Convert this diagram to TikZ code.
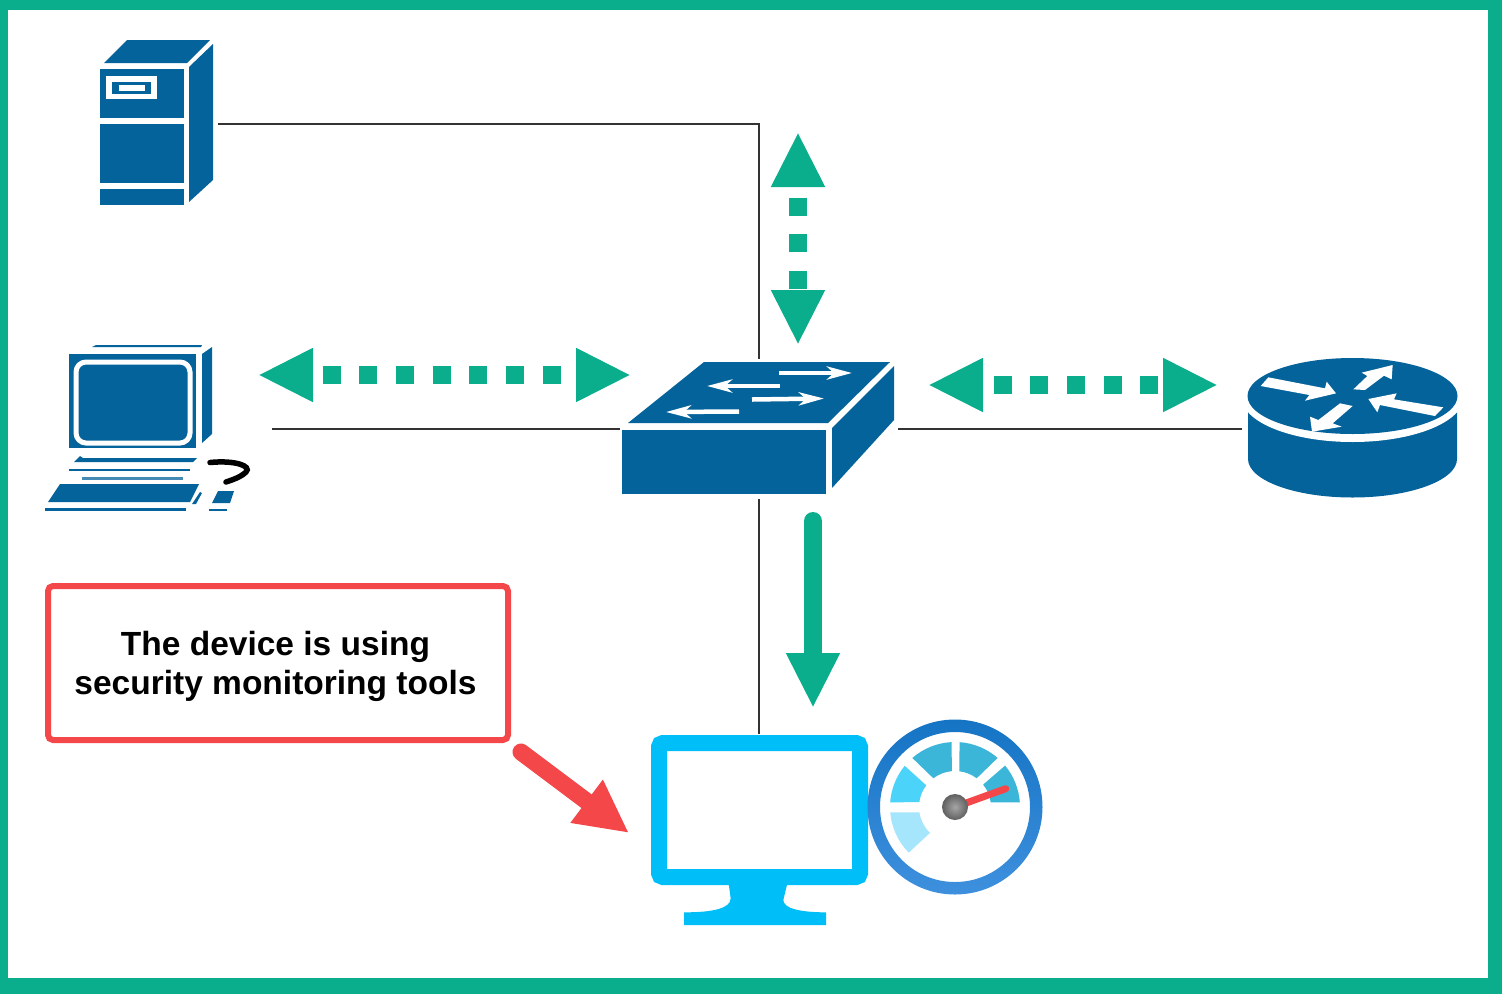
\documentclass[tikz,border=0pt]{standalone}
\usepackage{fontspec}
\setmainfont{Liberation Sans}
\usetikzlibrary{positioning,arrows.meta}
\definecolor{devblue}{HTML}{05639B}
\definecolor{flowgreen}{HTML}{0BAE8C}
\definecolor{screencyan}{HTML}{00BEF8}
\definecolor{alertred}{HTML}{F4474A}
\definecolor{wirecolor}{HTML}{333333}
\definecolor{ringtop}{HTML}{1574C4}
\definecolor{ringbottom}{HTML}{3E90DE}
\tikzset{device/.style={inner sep=0pt,outer sep=0pt},
  wire/.style={draw=wirecolor,line width=2.8pt},
  flow/.style={draw=flowgreen,line width=18pt,dash pattern=on 18pt off 18.7pt,{Triangle[length=55pt,width=50pt,color=flowgreen]}-{Triangle[length=55pt,width=50pt,color=flowgreen]}},
  swarrow/.style={draw=white,line width=4.5pt,-{Stealth[length=25pt,width=13pt,inset=7pt]}},
  note/.style={draw=alertred,line width=6pt,rounded corners=5pt,fill=white,align=center,inner sep=0pt,minimum width=460pt,minimum height=154pt,text height=70pt,font=\fontsize{33.5}{39}\selectfont\bfseries},}

\begin{document}
\begin{tikzpicture}[x=1pt,y=-1pt]
        % Frame
        \fill[flowgreen] (0,0) rectangle (1502,994);
        \fill[white] (8,10) rectangle (1488,978);
        % Nodes
        \node[device,minimum width=228pt,minimum height=168pt] (pc) at (158,429) {};
        \node[device,minimum width=120pt,minimum height=168pt] [above = 137pt of pc] (server) {};
        \node[device,minimum width=278pt,minimum height=140pt] [right = 348pt of pc] (switch) {};
        \node[device,minimum width=218pt,minimum height=140pt] [right = 344pt of switch] (router) {};
        \node[device,minimum width=218pt,minimum height=190pt] [below = 235pt of switch] (monitor) {};
        \node[note] (note) at (278,663) {The device is using\hspace*{5pt}\\security monitoring tools\hspace*{5pt}};
        % Paths
        \path[wire]
        (server.east) -| (switch.north)
        (pc.east) -- (switch.west)
        (switch.east) -- (router.west)
        (switch.south) -- (monitor.north);
        % Server
        \fill[devblue] (104,63) -- (127,40) -- (210,40) -- (187,63) -- cycle;
        \fill[devblue] (213,44) -- (213,180) -- (189,202) -- (189,67) -- cycle;
        \fill[devblue] (100,69) rectangle (184,118);
        \fill[devblue] (100,124) rectangle (184,183);
        \fill[devblue] (100,189) rectangle (184,205);
        \fill[white] (106,76) rectangle (157,99);
        \fill[devblue] (112,82) rectangle (151,94);
        \fill[white] (119,85) rectangle (145,91);
        % PC
        \fill[devblue] (92,347) -- (96,345) -- (202,345) -- (201,347) -- cycle;
        \fill[devblue] (69,354) rectangle (196,448);
        \draw[white,line width=5pt,rounded corners=10pt] (76,362) rectangle (190,443);
        \fill[devblue] (202,354) -- (212,347) -- (212,434) -- (202,443) -- cycle;
        \fill[devblue] (74,462) -- (80,456) -- (83,458) -- (197,458) -- (193,462) -- cycle;
        \fill[devblue] (69,469) rectangle (190,470.5);
        \fill[devblue!75] (82,477) rectangle (183,479.5);
        \fill[devblue] (48,502) -- (60,484) -- (199,484) -- (190,502) -- cycle;
        \fill[devblue] (45,508) rectangle (186,511);
        \fill[devblue] (192,504) -- (200,492) -- (202,493) -- (196,504) -- cycle;
        \fill[devblue] (212,503) -- (218,491) -- (234,491) -- (230,503) -- cycle;
        \fill[devblue] (209,509) rectangle (227,511);
        \draw[black,line width=5.5pt,line cap=round] (210,462.5) .. controls (235,460) and (252,466) .. (246,472) .. controls (241,477) and (232,480) .. (226,482);
        % Switch
        \fill[devblue] (628,423) -- (704,362) -- (890,362) -- (828,423) -- cycle;
        \fill[devblue] (622,430) rectangle (826,494);
        \fill[devblue] (832,428) -- (894,366) -- (894,420) -- (832,488) -- cycle;
        \draw[swarrow] (779,373) -- (852,373);
        \draw[swarrow] (780,386) -- (707,386);
        \draw[swarrow] (752,399.5) -- (824,398.5);
        \draw[swarrow] (739,411.5) -- (666,412);
        % Router
        \fill[devblue] (1248,412) -- (1248,459) arc[start angle=180,end angle=0,x radius=104.5,y radius=38.5] -- (1457,412) -- cycle;
        \fill[white] (1352.5,397) ellipse[x radius=111,y radius=45];
        \fill[devblue] (1352.5,396) ellipse[x radius=105,y radius=38];
        \begin{scope}[shift={(1250,360)},scale=1/3]
            \fill[white] (32,78) -- (55,52) -- (225,85) -- (230,65) -- (258,100) -- (165,122) -- (178,105) -- cycle;
            \fill[white] (310,88) -- (352,48) -- (335,38) -- (428,15) -- (425,58) -- (402,47) -- (345,90) -- cycle;
            \fill[white] (580,142) -- (555,168) -- (390,135) -- (382,157) -- (355,117) -- (440,100) -- (432,118) -- cycle;
            \fill[white] (270,130) -- (308,138) -- (248,190) -- (275,200) -- (186,215) -- (180,170) -- (205,180) -- cycle;
        \end{scope}
        % Monitor
        \draw[screencyan,line width=16pt,rounded corners=4pt,fill=white] (659,743) rectangle (860,877);
        \begin{scope}[shift={(640,710)},scale=1/3]
            \fill[screencyan] (266,520) -- (272,565) .. controls (272,595) and (220,607) .. (132,607) -- (132,645) -- (558,645) -- (558,607) .. controls (480,607) and (430,595) .. (430,570) -- (442,520) -- cycle;
        \end{scope}
        % Gauge
        \begin{scope}[shift={(955,807)},y=1pt]
            \shade[even odd rule,top color=ringtop,bottom color=ringbottom] (0,0) circle (87.5) (0,0) circle (75);
            \foreach \oa/\ob/\ia/\ib/\col in {184.7/224.6/188.7/226/A5E6FC,140.7/176/143/172/4BD3FA,93/131/95/127/3BB5D8,49/86/53/83/3BB5D8,4/39.6/7.5/38.5/3BB5D8}{
                \definecolor{segcol}{HTML}{\col}
                \fill[segcol] (\oa:65) arc[start angle=\oa,end angle=\ob,radius=65] -- (\ib:36) arc[start angle=\ib,end angle=\ia,radius=36] -- cycle;
            }
            \draw[alertred,line width=7pt,line cap=round] (0,0) -- (50.7,18.3);
            \shade[inner color=gray!70,outer color=gray!75!black] (0,0) circle (13);
        \end{scope}
        % Flows
        \coordinate (pcflowa) at (258,375);
        \coordinate (pcflowb) at (631,375);
        \coordinate (topflowa) at (798,132);
        \coordinate (topflowb) at (798,345);
        \coordinate (rtflowa) at (928,385);
        \coordinate (rtflowb) at (1218,385);
        \coordinate (monflowa) at (813,521);
        \coordinate (monflowb) at (813,708);
        \coordinate (notetail) at (521,752);
        \coordinate (monitortip) at (629,833);
        \draw[flow,dash phase=23.7pt] (pcflowa) -- (pcflowb);
        \draw[flow,dash phase=22.7pt] (topflowa) -- (topflowb);
        \draw[flow,dash phase=22.7pt] (rtflowa) -- (rtflowb);
        \draw[draw=flowgreen,line width=18pt,line cap=round,-{Triangle[length=55pt,width=50pt]}] (monflowa) -- (monflowb);
        \draw[draw=alertred,line width=17pt,line cap=round,-{Triangle[length=53pt,width=50pt]}] (notetail) -- (monitortip);
\end{tikzpicture}
\end{document}
